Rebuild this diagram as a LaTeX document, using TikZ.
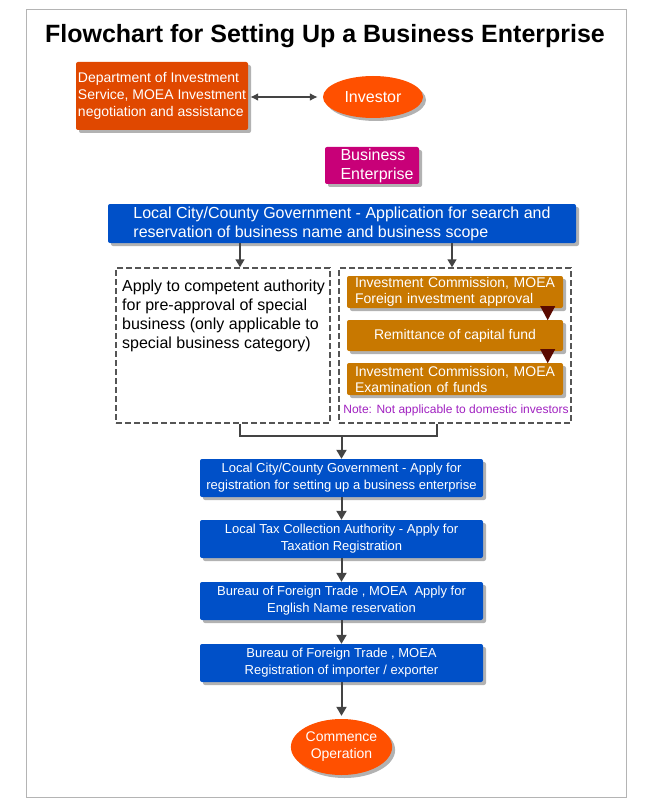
\documentclass[tikz,border=0pt]{standalone}
\usepackage{fontspec}
\setmainfont{Liberation Sans}
\usepackage{tikz}
\usetikzlibrary{shapes.geometric,shadows,arrows.meta,calc}

\definecolor{deptred}{HTML}{E04800}
\definecolor{investorange}{HTML}{FF5000}
\definecolor{bizmagenta}{HTML}{C80078}
\definecolor{stepblue}{HTML}{0050C8}
\definecolor{fundbrown}{HTML}{C87800}
\definecolor{tipbrown}{HTML}{5A0A00}
\definecolor{notepurple}{HTML}{A020C0}
\definecolor{linkgray}{HTML}{444444}
\definecolor{dashgray}{HTML}{555555}
\definecolor{framegray}{HTML}{B4B4B4}

\begin{document}
\begin{tikzpicture}[x=1pt,y=-1pt,
    boxshadow/.style={drop shadow={shadow xshift=3pt,shadow yshift=-3pt,opacity=0.3,fill=black}},
    flowbox/.style={rectangle, rounded corners=2pt, text=white, inner sep=0pt, boxshadow},
    bluebox/.style={flowbox, fill=stepblue, minimum width=283pt, minimum height=38pt,
      align=center, font=\fontsize{13}{17}\selectfont},
    fundbox/.style={flowbox, fill=fundbrown, minimum width=216pt, font=\fontsize{14}{16}\selectfont},
    ovalbox/.style={ellipse, fill=investorange, text=white, inner sep=0pt, boxshadow},
    dashbox/.style={draw=dashgray, line width=1.5pt, dash pattern=on 6pt off 3pt,
      minimum height=155pt, inner sep=0pt},
    flowline/.style={draw=linkgray, line width=2pt},
    flowarrow/.style={flowline, -{Triangle[length=9pt,width=10pt]}},
    smallarrow/.style={draw=linkgray, line width=1.5pt, -{Triangle[length=8pt,width=9pt]}}]
  \useasboundingbox (0,0) rectangle (650,805);
  \draw[framegray, line width=1pt] (26,10) rectangle (626,797);
  \node[font=\fontsize{25}{28}\bfseries\selectfont] (title) at (325,36)
    {Flowchart for Setting Up a Business Enterprise};

  % investor and service
  \node[flowbox, fill=deptred, minimum width=172pt, minimum height=68pt, align=left,
    font=\fontsize{14}{17}\selectfont] (dept) at (162,96)
    {Department of Investment\\Service, MOEA Investment\\negotiation and assistance};
  \node[ovalbox, minimum width=100pt, minimum height=42pt,
    font=\fontsize{16}{19}\selectfont] (investor) at (373,97) {Investor};
  \draw[linkgray, line width=1.8pt, {Latex[length=8pt,width=8pt]}-{Latex[length=8pt,width=8pt]}]
    ($(dept.east)+(2,1)$) -- ($(investor.west)+(-5,0)$);
  \node[flowbox, fill=bizmagenta, minimum width=94pt, minimum height=37pt] (biz) at (372,165.5) {};
  \node[align=left, text=white, inner sep=0pt, font=\fontsize{16}{19}\selectfont]
    (biztext) at ([xshift=5pt]biz.center) {Business\\Enterprise};

  % name reservation
  \node[flowbox, fill=stepblue, minimum width=468pt, minimum height=39pt, align=left,
    font=\fontsize{16}{19}\selectfont] (name) at (342,223.5)
    {Local City/County Government - Application for search and\\
     reservation of business name and business scope};

  \node[dashbox, minimum width=214pt] (special) at (223,345.5) {};
  \node[anchor=north west, align=left, inner sep=0pt, font=\fontsize{16}{19}\selectfont]
    (specialtext) at (122,280)
    {Apply to competent authority\\for pre-approval of special\\
     business (only applicable to\\special business category)};
  \node[dashbox, minimum width=232pt] (foreign) at (455,345.5) {};

  \coordinate (dropl) at (240,436);
  \coordinate (dropr) at (452,436);
  \coordinate (forkr) at (437,436);
  \coordinate (forkm) at (341.5,436);
  \draw[smallarrow] (name.south -| dropl) -- (special.north -| dropl);
  \draw[smallarrow] (name.south -| dropr) -- (foreign.north -| dropr);

  % foreign investors only
  \node[fundbox, minimum height=32pt, text width=200pt, align=left] (approve) at (455,292)
    {Investment Commission, MOEA\\Foreign investment approval};
  \node[fundbox, minimum height=31pt, align=center] (fund) at (455,335.5)
    {Remittance of capital fund};
  \node[fundbox, minimum height=32pt, text width=200pt, align=left] (check) at (455,379)
    {Investment Commission, MOEA\\Examination of funds};
  \foreach \a in {approve,fund}
    \fill[tipbrown] ($(\a.south east)+(-23,-2)$) -- ++(15,0) -- ++(-7.5,14) -- cycle;
  \node[text=notepurple, font=\fontsize{12}{14}\selectfont, inner sep=0pt] (note) at (456,410)
    {Note: Not applicable to domestic investors};

  \draw[flowline] (special.south -| dropl) -- (dropl) -- (forkr) -- (foreign.south -| forkr);

  % registration steps
  \node[bluebox] (reg) at (341.5,478)
    {Local City/County Government - Apply for\\registration for setting up a business enterprise};
  \node[bluebox] (tax) at (341.5,539)
    {Local Tax Collection Authority - Apply for\\Taxation Registration};
  \node[bluebox] (trade) at (341.5,601)
    {Bureau of Foreign Trade , MOEA\ \ Apply for\\English Name reservation};
  \node[bluebox] (export) at (341.5,663)
    {Bureau of Foreign Trade , MOEA\\Registration of importer / exporter};
  \node[ovalbox, minimum width=98pt, minimum height=56pt, align=center,
    font=\fontsize{14}{17}\selectfont] (start) at (341.5,747) {Commence\\Operation};

  \draw[flowarrow] (forkm) -- (reg.north);
  \draw[flowarrow] (reg) -- (tax);
  \draw[flowarrow] (tax) -- (trade);
  \draw[flowarrow] (trade) -- (export);
  \draw[flowarrow] (export) -- ($(start.north)+(0,-3)$);
\end{tikzpicture}
\end{document}
